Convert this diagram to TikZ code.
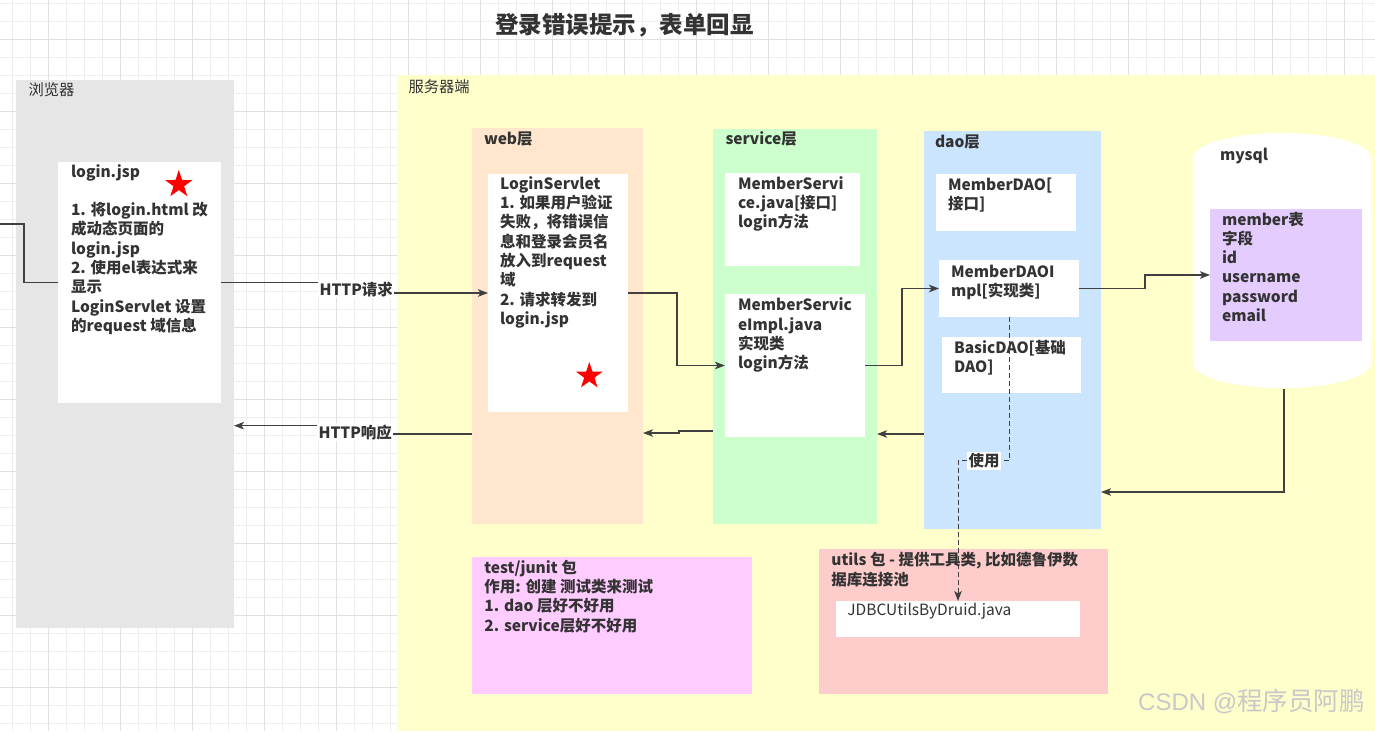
\documentclass[tikz,border=0pt]{standalone}
\usepackage{fontspec}
\setmainfont{Noto Sans CJK SC}
\newfontfamily\wmfont{Liberation Sans}
\usetikzlibrary{arrows.meta,shapes.geometric}
\definecolor{gridc}{HTML}{EEEEEE}
\definecolor{gridd}{HTML}{E0E0E0}
\definecolor{brwc}{HTML}{E6E6E6}
\definecolor{srvc}{HTML}{FFFFCC}
\definecolor{webc}{HTML}{FFE6CC}
\definecolor{svcc}{HTML}{CCFFCC}
\definecolor{daoc}{HTML}{CCE5FF}
\definecolor{testc}{HTML}{FFCCFF}
\definecolor{utilc}{HTML}{FFCCCC}
\definecolor{tabc}{HTML}{E5CCFF}
\definecolor{txtc}{HTML}{333333}
\definecolor{linec}{HTML}{404040}
\definecolor{wmc}{HTML}{C8C8C8}
\newcommand\mlines[1]{\vtop{\baselineskip=19.3pt\lineskiplimit=-30pt\lineskip=0pt #1}}
\newcommand\ml[1]{\hbox{#1}}
\begin{document}
\begin{tikzpicture}[x=1pt,y=-1pt,
  panel/.style={draw=none,inner sep=0,outer sep=0,anchor=north west},
  wbox/.style={panel,fill=white},
  txt/.style={anchor=base west,inner sep=0,outer sep=0,text=txtc,font=\fontsize{15.5}{19.3}\selectfont\bfseries},
  ttl/.style={txt,font=\fontsize{15.3}{18}\selectfont},
  lbl/.style={txt,fill=white,inner sep=1.5pt},
  conn/.style={draw=linec,line width=1.2pt},
  arr/.style={conn,-{Stealth[length=10pt,width=7.5pt,inset=2.5pt]}},
  dashline/.style={draw=linec,line width=1pt,dash pattern=on 5pt off 3pt},
  starshape/.style={star,star points=5,star point ratio=2.6,fill=red,draw=none,minimum size=29pt,inner sep=0}
]
\useasboundingbox (0,0) rectangle (1375,731);
\fill[white] (0,0) rectangle (1375,731);
% grid
\foreach \x in {12,30,...,1375} \draw[gridc,line width=1pt] (\x,0) -- (\x,731);
\foreach \y in {3.5,21.5,...,731} \draw[gridc,line width=1pt] (0,\y) -- (1375,\y);
\foreach \x in {48,120,...,1375} \draw[gridd,line width=1pt] (\x,0) -- (\x,731);
\foreach \y in {39.5,111.5,...,731} \draw[gridd,line width=1pt] (0,\y) -- (1375,\y);

% title
\node[txt,font=\fontsize{23.5}{28}\selectfont\bfseries] (title) at (495,33.3) {登录错误提示，表单回显};

% panels
\node[panel,fill=brwc,minimum width=218,minimum height=548] (brw) at (16,80) {};
\node[panel,fill=srvc,minimum width=978,minimum height=656] (srv) at (397,75) {};
\node[ttl] (brwt) at (28.5,95) {浏览器};
\node[ttl] (srvt) at (408.5,92.7) {服务器端};

\node[panel,fill=webc,minimum width=171,minimum height=396] (webL) at (472,128) {};
\node[panel,fill=svcc,minimum width=164,minimum height=395] (svcL) at (713,129) {};
\node[panel,fill=daoc,minimum width=177,minimum height=398] (daoL) at (924,131) {};
\node[txt] (webt) at (484,144) {web层};
\node[txt] (svct) at (725.5,144) {service层};
\node[txt] (daot) at (935,147.7) {dao层};

% white boxes
\node[wbox,minimum width=163,minimum height=241] (login) at (58,162) {};
\node[wbox,minimum width=140,minimum height=238] (servlet) at (488,174) {};
\node[wbox,minimum width=135,minimum height=93] (msvc) at (725,173) {};
\node[wbox,minimum width=140,minimum height=143] (msvcimpl) at (725,294) {};
\node[wbox,minimum width=140,minimum height=57] (mdao) at (936,174) {};
\node[wbox,minimum width=140,minimum height=57] (mdaoimpl) at (939,260) {};
\node[wbox,minimum width=139,minimum height=56] (basic) at (942,337) {};

\node[txt] (tlogin) at (71,177) {\mlines{\ml{login.jsp}\ml{}\ml{1. 将login.html 改}\ml{成动态页面的}\ml{login.jsp}\ml{2. 使用el表达式来}\ml{显示}\ml{LoginServlet 设置}\ml{的request 域信息}}};
\node[txt] (tservlet) at (500,189.3) {\mlines{\ml{LoginServlet}\ml{1. 如果用户验证}\ml{失败，将错误信}\ml{息和登录会员名}\ml{放入到request}\ml{域}\ml{2. 请求转发到}\ml{login.jsp}}};
\node[txt] (tmsvc) at (738,189.3) {\mlines{\ml{MemberServi}\ml{ce.java[接口]}\ml{login方法}}};
\node[txt] (tmsvcimpl) at (738,310.7) {\mlines{\ml{MemberServic}\ml{eImpl.java}\ml{实现类}\ml{login方法}}};
\node[txt] (tmdao) at (948,190) {\mlines{\ml{MemberDAO[}\ml{接口]}}};
\node[txt] (tmdaoimpl) at (951,277.3) {\mlines{\ml{MemberDAOI}\ml{mpl[实现类]}}};
\node[txt] (tbasic) at (954,353.3) {\mlines{\ml{BasicDAO[基础}\ml{DAO]}}};

\node[starshape] (star1) at (178.8,184.5) {};
\node[starshape,minimum size=28pt] (star2) at (589.3,376) {};

% mysql cylinder
\fill[white] (1193,158) rectangle (1371,363);
\fill[white] (1282,158) ellipse [x radius=89pt,y radius=25pt];
\fill[white] (1282,363) ellipse [x radius=89pt,y radius=25pt];
\node[panel,minimum width=178,minimum height=255] (mysql) at (1193,133) {};
\node[txt] (tmysql) at (1220,160.7) {mysql};
\node[panel,fill=tabc,minimum width=152,minimum height=132] (table) at (1210,209) {};
\node[txt] (ttable) at (1222,225) {\mlines{\ml{member表}\ml{字段}\ml{id}\ml{username}\ml{password}\ml{email}}};

% bottom boxes
\node[panel,fill=testc,minimum width=280,minimum height=137] (test) at (472,557) {};
\node[txt] (ttest) at (484.4,573.3) {\mlines{\ml{test/junit 包}\ml{作用: 创建 测试类来测试}\ml{1. dao 层好不好用}\ml{2. service层好不好用}}};
\node[panel,fill=utilc,minimum width=289,minimum height=145] (utils) at (819,549) {};
\node[txt] (tutils) at (831.4,565.7) {\mlines{\ml{utils 包 - 提供工具类, 比如德鲁伊数}\ml{据库连接池}}};
\node[wbox,minimum width=244,minimum height=36] (jdbc) at (836,601) {};
\node[txt,font=\fontsize{15.5}{19.3}\selectfont] (tjdbc) at (847.4,615) {JDBCUtilsByDruid.java};

% labels on connectors
\node[lbl] (req) at (318,295) {HTTP请求};
\node[lbl] (resp) at (317,438) {HTTP响应};
\node[lbl] (use) at (967,466.7) {使用};

% connectors
\coordinate (lin) at (0,224);
\draw[conn] (lin) -- (24,224) -- (24,282.5) -- (login.west);
\draw[conn] (login.east) -- (req.west |- login.east);
\draw[arr] (req.east |- servlet.west) -- (servlet.west);
\draw[conn] (webL.west |- 0,434) -- (resp.east |- 0,434);
\draw[arr] (resp.west |- 0,425.7) -- (brw.east |- 0,425.7);
\draw[arr] (servlet.east) -- ++(49,0) |- (msvcimpl.west);
\draw[arr] (svcL.west |- 0,431) -- (679,431) -- (679,433) -- (webL.east |- 0,433);
\draw[arr] (msvcimpl.east) -- ++(37,0) |- (mdaoimpl.west);
\draw[arr] (daoL.west |- 0,434) -- (svcL.east |- 0,434);
\draw[arr] (mdaoimpl.east) -- ++(66,0) |- (table.west);
\draw[arr] (mysql.south) ++(2,1) -- (1284,492) -- (daoL.east |- 0,492);
\draw[dashline] (mdaoimpl.south) |- (use.east);
\draw[dashline,-{Stealth[length=10pt,width=7.5pt,inset=2.5pt]}] (use.west) -| (jdbc.north);

% watermark
\node[anchor=base west,inner sep=0,text=wmc] (wm) at (1138,710) {\wmfont\fontsize{24}{26}\selectfont CSDN @\rmfamily\fontsize{25.5}{28}\selectfont 程序员阿鹏};
\end{tikzpicture}
\end{document}
